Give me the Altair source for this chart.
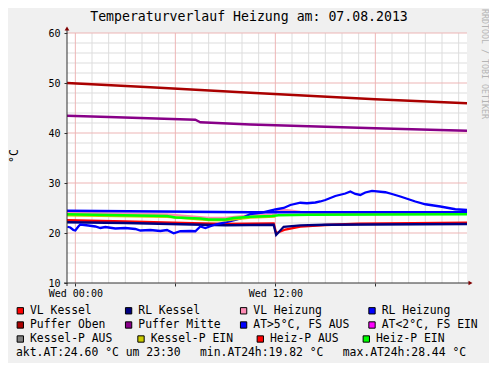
import altair as alt
import pandas as pd

# ---------------- text ----------------
title_text = "Temperaturverlauf Heizung am: 07.08.2013"
y_title = "°C"
watermark = "RRDTOOL / TOBI OETIKER"
footer_texts = ["akt.AT:24.60 °C um 23:30", "min.AT24h:19.82 °C", "max.AT24h:28.44 °C"]

# ---------------- axes ----------------
x_domain = [-0.5, 23.5]          # hours relative to Wed 00:00
y_domain = [10, 60]
x_tick_values = [0, 6, 12, 18]
x_tick_labels = {0: "Wed 00:00", 12: "Wed 12:00"}
y_tick_values = [10, 20, 30, 40, 50, 60]
major_hours = [0, 6, 12, 18]
minor_hours = [h for h in range(0, 24) if h not in major_hours]
major_temps = [20, 30, 40, 50, 60]
minor_temps = [v for v in range(12, 60, 2) if v % 10]

# ---------------- legend ----------------
legend_names = ["VL Kessel", "RL Kessel", "VL Heizung", "RL Heizung",
                "Puffer Oben", "Puffer Mitte", "AT>5°C, FS AUS", "AT<2°C, FS EIN",
                "Kessel-P AUS", "Kessel-P EIN", "Heiz-P AUS", "Heiz-P EIN"]
legend_colors = ["#FF0000", "#000080", "#FF8CB4", "#0000FF",
                 "#AA0000", "#880088", "#0000FF", "#FF00FF",
                 "#808080", "#CCCC00", "#FF0000", "#00FF00"]

# ---------------- series (hour, °C) ----------------
vl_kessel_h = [-0.5, 3, 7, 9, 11.9, 12.05, 12.6, 13.5, 15, 17, 23.5]
vl_kessel_v = [22.55, 22.3, 21.95, 21.8, 21.9, 19.95, 20.7, 21.27, 21.6, 21.85, 22.05]

rl_kessel_h = [-0.5, 3, 7, 9, 11.9, 12.05, 12.5, 13.5, 15, 23.5]
rl_kessel_v = [22.15, 22.0, 21.7, 21.55, 21.65, 19.6, 21.25, 21.53, 21.65, 21.8]

vl_heizung_h = [-0.5, 5.5, 8.0, 9.0, 10.5, 12.0, 12.1, 12.6, 13.5, 14.5, 23.5]
vl_heizung_v = [24.05, 23.7, 23.0, 23.0, 23.5, 23.7, 24.7, 24.6, 24.2, 23.95, 23.85]

rl_heizung_h = [-0.5, 5, 10.5, 23.5]
rl_heizung_v = [24.45, 24.3, 24.15, 24.15]

puffer_oben_h = [-0.5, 4.5, 10.5, 18, 23.5]
puffer_oben_v = [50.0, 49.15, 48.05, 46.75, 45.95]

puffer_mitte_h = [-0.5, 2, 7.2, 7.5, 10.5, 18, 23.5]
puffer_mitte_v = [43.45, 43.2, 42.65, 42.15, 41.7, 40.95, 40.45]

at_h = [-0.48, -0.3, -0.12, 0, 0.18, 0.3, 0.78, 1.2, 1.5, 1.8, 2.4, 3.0, 3.6, 3.9,
        4.5, 5.1, 5.5, 5.9, 6.3, 6.9, 7.2, 7.5, 7.8, 8.4, 9.0, 9.6, 10.0, 10.5,
        11.2, 12.0, 12.5, 12.9, 13.5, 13.9, 14.4, 14.7, 15.0, 15.6, 16.2, 16.5,
        16.8, 17.1, 17.4, 17.8, 18.6, 19.0, 19.5, 20.4, 21.0, 21.9, 22.8, 23.5]
at_v = [21.25, 21.1, 20.6, 20.5, 21.3, 21.7, 21.5, 21.3, 21.0, 21.2, 20.9, 21.0, 20.8, 20.5,
        20.6, 20.4, 20.6, 19.95, 20.35, 20.4, 20.35, 21.3, 21.0, 21.7, 22.1, 22.6, 23.0, 23.8,
        24.1, 24.7, 25.0, 25.6, 26.05, 25.95, 26.1, 26.3, 26.6, 27.4, 27.9, 28.3,
        27.8, 27.6, 28.1, 28.44, 28.15, 27.8, 27.3, 26.3, 25.75, 25.3, 24.75, 24.6]

kessel_p_ein_h = [-0.5, 5.5, 8.0, 9.0, 10.5, 12.0]
kessel_p_ein_v = [23.55, 23.25, 22.6, 22.55, 23.1, 23.3]

heiz_p_ein_h = [-0.5, 2, 5.5, 6.0, 7.5, 8.0, 9.0, 9.5, 10.5, 11.8, 12.2, 14, 23.5]
heiz_p_ein_v = [23.75, 23.6, 23.4, 23.1, 22.9, 22.7, 22.7, 23.0, 23.25, 23.4, 23.55, 23.65, 23.75]

# ---------------- styling ----------------
FONT = "DejaVu Sans Mono"
AXIS_COLOR = "#303030"
ARROW_COLOR = "#800000"
MINOR_GRID = "#DDDDDD"
MAJOR_GRID = "#EDB5B5"
LINE_W = 2.3

label_expr = " : ".join(
    [f"datum.value == {k} ? '{v}'" for k, v in x_tick_labels.items()]) + " : ''"

X = alt.X("h:Q", scale=alt.Scale(domain=x_domain, nice=False, zero=False),
          axis=alt.Axis(values=x_tick_values, labelExpr=label_expr, grid=False,
                        domain=False, tickSize=3, tickColor=AXIS_COLOR,
                        labelFont=FONT, labelFontSize=10, labelColor="black",
                        labelPadding=2, labelOverlap=False, labelFlush=False,
                        title=None))
Y = alt.Y("v:Q", scale=alt.Scale(domain=y_domain, nice=False, zero=False),
          axis=alt.Axis(values=y_tick_values, grid=False, domain=False,
                        tickSize=3, tickColor=AXIS_COLOR, labelFont=FONT,
                        labelFontSize=10, labelColor="black", labelPadding=4,
                        format="d", title=None))

one = lambda: pd.DataFrame({"k": [0]})
layers = []

# grid
layers.append(alt.Chart(pd.DataFrame({"h": minor_hours})).mark_rule(color=MINOR_GRID, strokeWidth=1).encode(x=X))
layers.append(alt.Chart(pd.DataFrame({"v": minor_temps})).mark_rule(color=MINOR_GRID, strokeWidth=1).encode(y=Y))
layers.append(alt.Chart(pd.DataFrame({"h": major_hours})).mark_rule(color=MAJOR_GRID, strokeWidth=1).encode(x=X))
layers.append(alt.Chart(pd.DataFrame({"v": major_temps})).mark_rule(color=MAJOR_GRID, strokeWidth=1).encode(y=Y))

# series lines in RRD drawing order
series = [
    (vl_kessel_h, vl_kessel_v, legend_colors[0]),
    (rl_kessel_h, rl_kessel_v, legend_colors[1]),
    (vl_heizung_h, vl_heizung_v, legend_colors[2]),
    (rl_heizung_h, rl_heizung_v, legend_colors[3]),
    (puffer_oben_h, puffer_oben_v, legend_colors[4]),
    (puffer_mitte_h, puffer_mitte_v, legend_colors[5]),
    (at_h, at_v, legend_colors[6]),
    (kessel_p_ein_h, kessel_p_ein_v, legend_colors[9]),
    (heiz_p_ein_h, heiz_p_ein_v, legend_colors[11]),
]
for hs, vs, col in series:
    layers.append(alt.Chart(pd.DataFrame({"h": hs, "v": vs}))
                  .mark_line(color=col, strokeWidth=LINE_W, clip=True).encode(x=X, y=Y))

# axis lines and arrows
layers.append(alt.Chart(one()).mark_rule(color=AXIS_COLOR, strokeWidth=1).encode(
    x=alt.value(0), y=alt.value(-4), y2=alt.value(253)))
layers.append(alt.Chart(one()).mark_rule(color=AXIS_COLOR, strokeWidth=1).encode(
    x=alt.value(-3), x2=alt.value(402), y=alt.value(250)))
layers.append(alt.Chart(one()).mark_point(shape="triangle-up", filled=True, size=22,
                                          color=ARROW_COLOR, opacity=1).encode(
    x=alt.value(0), y=alt.value(-4.5)))
layers.append(alt.Chart(one()).mark_point(shape="triangle-right", filled=True, size=22,
                                          color=ARROW_COLOR, opacity=1).encode(
    x=alt.value(403.5), y=alt.value(250)))

# title, y title, watermark
layers.append(alt.Chart(pd.DataFrame({"t": [title_text]})).mark_text(
    font=FONT, fontSize=13.2, color="black", align="center", baseline="alphabetic").encode(
    text="t:N", x=alt.value(182), y=alt.value(-12)))
layers.append(alt.Chart(pd.DataFrame({"t": [y_title]})).mark_text(
    font=FONT, fontSize=11.5, color="black", align="center", baseline="middle", angle=270).encode(
    text="t:N", x=alt.value(-52), y=alt.value(123)))
layers.append(alt.Chart(pd.DataFrame({"t": [watermark]})).mark_text(
    font=FONT, fontSize=8.3, color="#B4B4B4", align="left", baseline="middle", angle=90).encode(
    text="t:N", x=alt.value(416.5), y=alt.value(-24)))

# legend layout (text start x in plot px, row y in plot px)
legend_text_x = [-37, 71.3, 186.3, 314.7,
                 -37, 71.3, 186.3, 314.7,
                 -37, 83.7, 203, 309]
legend_row_y = [277.8, 277.8, 277.8, 277.8,
                292, 292, 292, 292,
                306, 306, 306, 306]
for name, col, tx, ty in zip(legend_names, legend_colors, legend_text_x, legend_row_y):
    layers.append(alt.Chart(pd.DataFrame({"t": [name]})).mark_square(
        size=40, filled=True, color=col, stroke="black", strokeWidth=1, opacity=1).encode(
        x=alt.value(tx - 9.7), y=alt.value(ty)))
    layers.append(alt.Chart(pd.DataFrame({"t": [name]})).mark_text(
        font=FONT, fontSize=11.4, color="black", align="left", baseline="middle").encode(
        text="t:N", x=alt.value(tx), y=alt.value(ty)))

footer_x = [-51, 133, 275.7]
for txt, fx in zip(footer_texts, footer_x):
    layers.append(alt.Chart(pd.DataFrame({"t": [txt]})).mark_text(
        font=FONT, fontSize=11.4, color="black", align="left", baseline="middle").encode(
        text="t:N", x=alt.value(fx), y=alt.value(320.3)))

chart = alt.layer(*layers).properties(
    width=400, height=250,
    padding={"left": 59, "top": 25, "right": 22, "bottom": 80},
    autosize=alt.AutoSizeParams(type="none"),
    background="#F0F0F0",
).configure_view(stroke=None, fill="white")

chart.save("out.html", embed_options={"renderer": "svg", "actions": False})
